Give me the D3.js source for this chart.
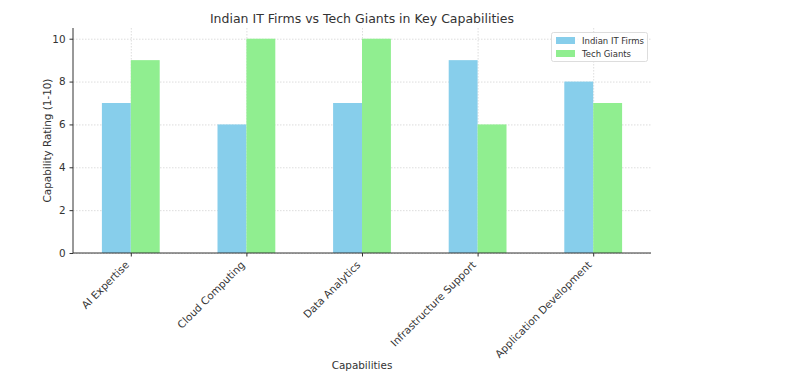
<!DOCTYPE html>
<html><head><meta charset="utf-8">
<script src="https://cdn.jsdelivr.net/npm/d3@7"></script>
<style>body{margin:0;background:#fff}svg{display:block}text{font-family:"DejaVu Sans",sans-serif;fill:#333}</style>
</head><body><svg id="c" width="811" height="380"></svg>
<script>
const categories = ["AI Expertise","Cloud Computing","Data Analytics","Infrastructure Support","Application Development"];
const seriesNames = ["Indian IT Firms","Tech Giants"];
const indianIT = [7,6,7,9,8];
const techGiants = [9,10,10,6,7];
const yTicks = [0,2,4,6,8,10];
const colors = ["#87CEEB","#90EE90"];

const svg = d3.select("#c");
const L=73,R=651,T=28,B=253;
const x = d3.scaleLinear().domain([-0.5,4.5]).range([L,R]);
const y = d3.scaleLinear().domain([0,10.5]).range([B,T]);
const bw = 0.25;
const series=[indianIT,techGiants];

// grid
const g = svg.append("g");
g.selectAll(".gy").data(yTicks).join("line").attr("x1",L).attr("x2",R)
 .attr("y1",d=>y(d)+0.5).attr("y2",d=>y(d)+0.5).attr("stroke","#d4d4d4").attr("stroke-width",0.8).attr("stroke-dasharray","1.5,1.5");
g.selectAll(".gx").data(categories).join("line").attr("y1",T).attr("y2",B)
 .attr("x1",(d,i)=>x(i)+0.5).attr("x2",(d,i)=>x(i)+0.5).attr("stroke","#d4d4d4").attr("stroke-width",0.8).attr("stroke-dasharray","1.5,1.5");

// bars
series.forEach((s,si)=>{
  svg.append("g").selectAll("rect").data(s).join("rect")
   .attr("x",(d,i)=>x(i-bw+si*bw)).attr("width",x(bw)-x(0))
   .attr("y",d=>y(d)).attr("height",d=>B-y(d)).attr("fill",colors[si]);
});

// axes
const yAxis = d3.axisLeft(y).tickValues(yTicks).tickSize(3.5).tickPadding(4);
const ya = svg.append("g").attr("transform",`translate(${L},0)`).call(yAxis);
ya.select(".domain").attr("stroke","#333").attr("d",`M0,${T}V${B}`);
ya.selectAll("text").style("font-size","10.4px").attr("fill","#333");
ya.selectAll(".tick line").attr("stroke","#333");

const xAxis = d3.axisBottom(x).tickValues([0,1,2,3,4]).tickFormat(i=>categories[i]).tickSize(3.5).tickPadding(3);
const xa = svg.append("g").attr("transform",`translate(0,${B})`).call(xAxis);
xa.select(".domain").attr("stroke","#333").attr("d",`M${L},0H${R}`);
xa.selectAll(".tick line").attr("stroke","#333");
xa.selectAll("text").style("font-size","10.4px").attr("fill","#333")
  .attr("text-anchor","end").attr("dy","0.35em").attr("transform","translate(-4,10) rotate(-45)").attr("y",0).attr("x",0);

// title & labels
svg.append("text").attr("x",(L+R)/2).attr("y",23).attr("text-anchor","middle").style("font-size","12.5px").text("Indian IT Firms vs Tech Giants in Key Capabilities");
svg.append("text").attr("x",(L+R)/2).attr("y",369).attr("text-anchor","middle").style("font-size","10.4px").text("Capabilities");
svg.append("text").attr("transform",`translate(51,${(T+B)/2}) rotate(-90)`).attr("text-anchor","middle").style("font-size","10.4px").text("Capability Rating (1-10)");

// legend
const lg = svg.append("g").attr("transform","translate(551,32)");
lg.append("rect").attr("x",0.5).attr("y",0.5).attr("width",96).attr("height",29).attr("rx",2).attr("fill","#fff").attr("fill-opacity",0.8).attr("stroke","#ddd");
seriesNames.forEach((n,i)=>{
  lg.append("rect").attr("x",5).attr("y",5+i*13).attr("width",19).attr("height",7).attr("fill",colors[i]);
  lg.append("text").attr("x",31).attr("y",12+i*13).style("font-size","8.5px").text(n);
});
</script></body></html>
